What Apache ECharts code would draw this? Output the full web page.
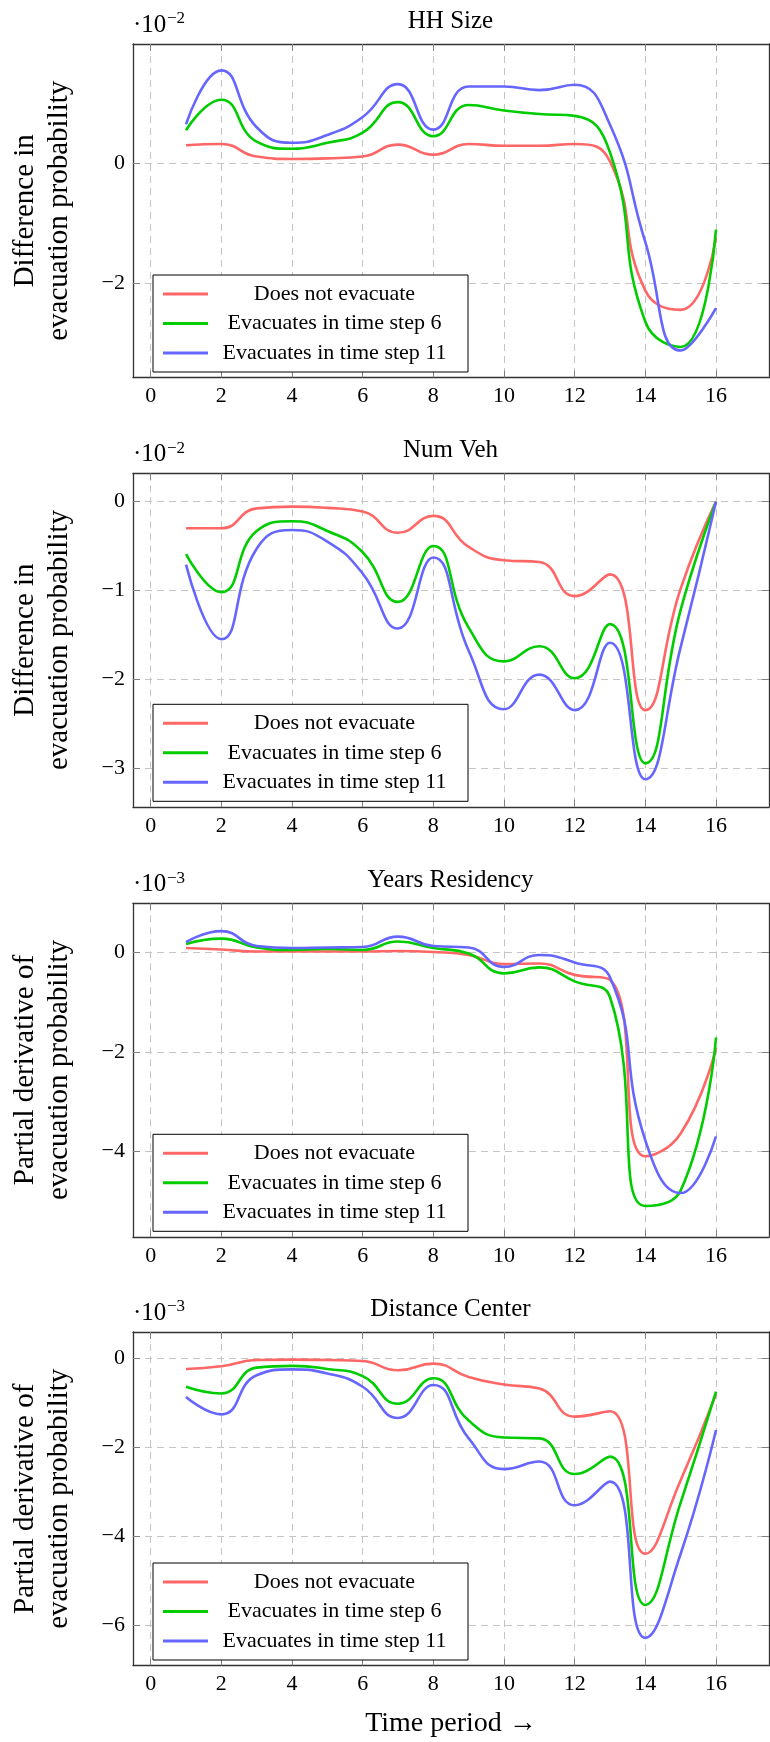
<!DOCTYPE html>
<html>
<head>
<meta charset="utf-8">
<script src="https://cdn.jsdelivr.net/npm/echarts@6/dist/echarts.min.js"></script>
<style>
html,body{margin:0;padding:0;background:#ffffff;}
#chart{width:770px;height:1742px;}
</style>
</head>
<body>
<div id="chart"></div>
<script>
// ---------------- data ----------------
const timeSteps = [1, 2, 3, 4, 5, 6, 7, 8, 9, 10, 11, 12, 13, 14, 15, 16];
const xTickValues = [0, 2, 4, 6, 8, 10, 12, 14, 16];
const seriesNames = ['Does not evacuate', 'Evacuates in time step 6', 'Evacuates in time step 11'];
const panelTitles = ['HH Size', 'Num Veh', 'Years Residency', 'Distance Center'];
const panelExponents = ['\u22122', '\u22122', '\u22123', '\u22123'];
const panelYLabels = [
  'Difference in\nevacuation probability',
  'Difference in\nevacuation probability',
  'Partial derivative of\nevacuation probability',
  'Partial derivative of\nevacuation probability'
];
const xAxisTitle = 'Time period \u2192';

// HH Size (x 10^-2)
const hhSizeNoEvac  = [0.30, 0.32, 0.11, 0.07, 0.08, 0.11, 0.31, 0.14, 0.32, 0.29, 0.29, 0.32, 0.03, -2.13, -2.45, -1.25];
const hhSizeEvac6   = [0.55, 1.06, 0.36, 0.24, 0.34, 0.51, 1.02, 0.45, 0.97, 0.88, 0.82, 0.79, 0.18, -2.65, -3.07, -1.11];
const hhSizeEvac11  = [0.65, 1.55, 0.60, 0.34, 0.47, 0.77, 1.32, 0.56, 1.28, 1.28, 1.22, 1.31, 0.64, -1.32, -3.13, -2.42];
const hhSizeTicks   = [-2, 0];

// Num Veh (x 10^-2)
const numVehNoEvac  = [-0.30, -0.30, -0.075, -0.056, -0.07, -0.11, -0.35, -0.16, -0.51, -0.66, -0.68, -1.065, -0.82, -2.35, -0.98, 0];
const numVehEvac6   = [-0.59, -1.02, -0.33, -0.22, -0.33, -0.57, -1.13, -0.50, -1.42, -1.80, -1.63, -1.99, -1.38, -2.95, -1.22, 0];
const numVehEvac11  = [-0.71, -1.55, -0.53, -0.32, -0.45, -0.81, -1.43, -0.63, -1.68, -2.34, -1.95, -2.35, -1.59, -3.13, -1.64, 0];
const numVehTicks   = [-3, -2, -1, 0];

// Years Residency (x 10^-3)
const yearsNoEvac   = [0.09, 0.06, 0.02, 0.02, 0.02, 0.02, 0.03, 0.01, -0.05, -0.23, -0.22, -0.45, -0.55, -4.10, -3.64, -1.92];
const yearsEvac6    = [0.17, 0.28, 0.10, 0.05, 0.07, 0.05, 0.22, 0.09, -0.02, -0.42, -0.30, -0.58, -0.90, -5.10, -4.79, -1.71];
const yearsEvac11   = [0.21, 0.43, 0.13, 0.09, 0.10, 0.11, 0.32, 0.13, 0.10, -0.29, -0.05, -0.20, -0.50, -3.78, -4.84, -3.70];
const yearsTicks    = [-4, -2, 0];

// Distance Center (x 10^-3)
const distNoEvac    = [-0.25, -0.19, -0.05, -0.04, -0.05, -0.07, -0.28, -0.13, -0.43, -0.60, -0.69, -1.32, -1.20, -4.40, -2.75, -0.82];
const distEvac6     = [-0.65, -0.80, -0.22, -0.18, -0.25, -0.41, -1.03, -0.46, -1.41, -1.79, -1.81, -2.61, -2.22, -5.55, -3.25, -0.76];
const distEvac11    = [-0.88, -1.27, -0.39, -0.26, -0.35, -0.65, -1.35, -0.61, -1.81, -2.50, -2.33, -3.31, -2.78, -6.29, -4.40, -1.62];
const distTicks     = [-6, -4, -2, 0];

const panelSeries = [
  [hhSizeNoEvac, hhSizeEvac6, hhSizeEvac11],
  [numVehNoEvac, numVehEvac6, numVehEvac11],
  [yearsNoEvac, yearsEvac6, yearsEvac11],
  [distNoEvac, distEvac6, distEvac11]
];
const panelTicks = [hhSizeTicks, numVehTicks, yearsTicks, distTicks];

// ---------------- layout / style ----------------
const FONT = 'Liberation Serif';
const colors = ['#ff6666', '#00cc00', '#6666ff'];
const gridLeft = 132, gridWidth = 637, gridHeight = 333.5;
const gridTops = [44, 473.3, 903.3, 1332];
const yRanges = [[-3.58, 1.99], [-3.44, 0.32], [-5.72, 0.99], [-6.91, 0.58]];
const xRange = [-0.5, 17.5];
const axisColor = '#333333';
const tickColor = '#808080';
const gridLineColor = '#c4c4c4';

const minusFmt = v => String(v).replace('-', '\u2212');

const grids = [], xAxes = [], yAxes = [], series = [], legends = [], graphics = [];

gridTops.forEach((top, p) => {
  grids.push({ left: gridLeft, top: top, width: gridWidth, height: gridHeight, containLabel: false });
  const ticks = panelTicks[p];
  xAxes.push({
    type: 'value', gridIndex: p, min: xRange[0], max: xRange[1], position: 'bottom',
    axisLine: { show: true, onZero: false, lineStyle: { color: axisColor, width: 1.3 } },
    axisTick: { show: true, inside: true, length: 7, customValues: xTickValues, lineStyle: { color: tickColor, width: 1 } },
    axisLabel: { show: true, customValues: xTickValues, margin: 8, color: '#000', fontFamily: FONT, fontSize: 22 },
    splitLine: { show: true, lineStyle: { color: gridLineColor, width: 1, type: [7, 5] } },
    name: p === 3 ? xAxisTitle : '', nameLocation: 'middle', nameGap: 44,
    nameTextStyle: { color: '#000', fontFamily: FONT, fontSize: 28 }
  });
  xAxes.push({
    type: 'value', gridIndex: p, min: xRange[0], max: xRange[1], position: 'top',
    axisLine: { show: true, onZero: false, lineStyle: { color: axisColor, width: 1.3 } },
    axisTick: { show: true, inside: true, length: 7, customValues: xTickValues, lineStyle: { color: tickColor, width: 1 } },
    axisLabel: { show: false }, splitLine: { show: false }
  });
  yAxes.push({
    type: 'value', gridIndex: p, min: yRanges[p][0], max: yRanges[p][1], position: 'left',
    axisLine: { show: true, onZero: false, lineStyle: { color: axisColor, width: 1.3 } },
    axisTick: { show: true, inside: true, length: 7, customValues: ticks, lineStyle: { color: tickColor, width: 1 } },
    axisLabel: { show: true, customValues: ticks, margin: 8, color: '#000', fontFamily: FONT, fontSize: 22, formatter: minusFmt },
    splitLine: { show: true, lineStyle: { color: gridLineColor, width: 1, type: [7, 5] } },
    name: panelYLabels[p], nameLocation: 'middle', nameGap: 57,
    nameTextStyle: { color: '#000', fontFamily: FONT, fontSize: 29, lineHeight: 34 }
  });
  yAxes.push({
    type: 'value', gridIndex: p, min: yRanges[p][0], max: yRanges[p][1], position: 'right',
    axisLine: { show: true, onZero: false, lineStyle: { color: axisColor, width: 1.3 } },
    axisTick: { show: true, inside: true, length: 7, customValues: ticks, lineStyle: { color: tickColor, width: 1 } },
    axisLabel: { show: false }, splitLine: { show: false }
  });

  panelSeries[p].forEach((vals, s) => {
    series.push({
      name: seriesNames[s], type: 'line', xAxisIndex: p * 2, yAxisIndex: p * 2,
      data: timeSteps.map((t, i) => [t, vals[i]]),
      smooth: 0.5, showSymbol: false, symbol: 'none',
      lineStyle: { color: colors[s], width: 2.6 }, itemStyle: { color: colors[s] },
      emphasis: { disabled: true }, silent: true, z: 3 + s
    });
  });

  legends.push({
    data: seriesNames, orient: 'vertical', left: 153, top: top + 231,
    padding: [8, 12, 8, 10], itemGap: 7.5, itemWidth: 45, itemHeight: 3, icon: 'rect',
    borderColor: '#000', borderWidth: 1, backgroundColor: '#fff', selectedMode: false,
    formatter: n => '{t|' + n + '}',
    textStyle: { color: '#000', fontFamily: FONT, fontSize: 22,
      rich: { t: { width: 243, align: 'center', fontFamily: FONT, fontSize: 22, lineHeight: 20, color: '#000' } } }
  });

  graphics.push({
    type: 'text', x: gridLeft + gridWidth / 2, y: top - 23,
    style: { text: panelTitles[p], textAlign: 'center', textVerticalAlign: 'middle', fill: '#000', fontFamily: FONT, fontSize: 25 }
  });
  graphics.push({
    type: 'text', x: 133, y: top - 19,
    style: { text: '\u00b710', textAlign: 'left', textVerticalAlign: 'middle', fill: '#000', fontFamily: FONT, fontSize: 25 }
  });
  graphics.push({
    type: 'text', x: 167, y: top - 25,
    style: { text: panelExponents[p], textAlign: 'left', textVerticalAlign: 'middle', fill: '#000', fontFamily: FONT, fontSize: 17 }
  });
});

const chart = echarts.init(document.getElementById('chart'), null, { renderer: 'canvas', width: 770, height: 1742 });
chart.setOption({
  backgroundColor: '#ffffff',
  animation: false,
  grid: grids, xAxis: xAxes, yAxis: yAxes, series: series, legend: legends, graphic: graphics
});
</script>
</body>
</html>
